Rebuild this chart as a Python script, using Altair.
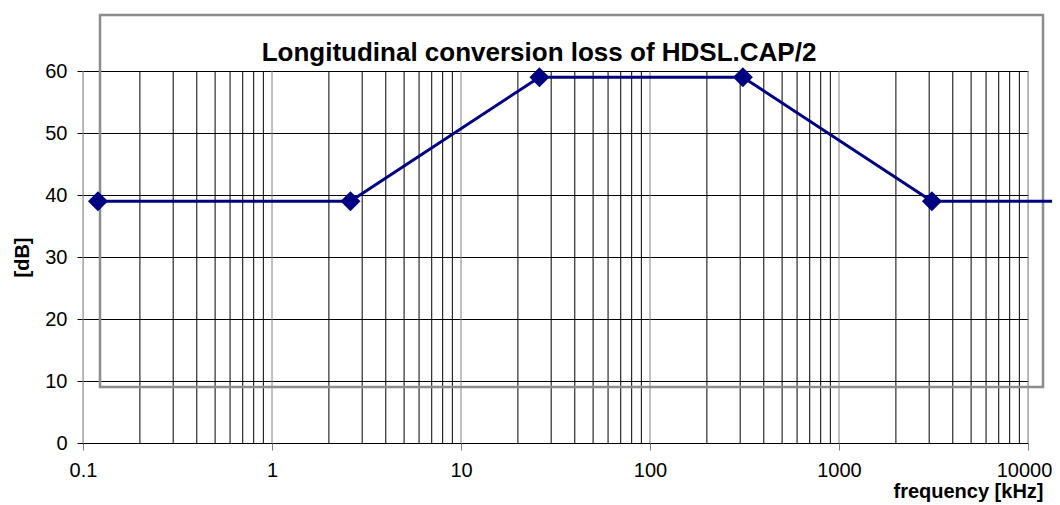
import altair as alt
import pandas as pd

# ---- data ----
freq_khz = [0.12, 2.6, 26, 310, 3100, 14000]
loss_db = [39, 39, 59, 59, 39, 39]
has_marker = [True, True, True, True, True, False]

decades = [0.1, 1, 10, 100, 1000, 10000]
minor_grid = [m * d for d in [0.1, 1, 10, 100, 1000] for m in range(2, 10)]
y_ticks = [0, 10, 20, 30, 40, 50, 60]

title_text = "Longitudinal conversion loss of HDSL.CAP/2"
x_title = "frequency [kHz]"
y_title = "[dB]"

line_df = pd.DataFrame({"f": freq_khz, "db": loss_db, "m": has_marker})
minor_df = pd.DataFrame({"f": minor_grid})
major_df = pd.DataFrame({"f": decades})

FONT = "Liberation Sans"
NAVY = "#000080"

xscale = alt.Scale(type="log", domain=[0.1, 10000], nice=False, clamp=False)
yscale = alt.Scale(domain=[0, 60], nice=False)

base_x_axis = alt.Axis(
    values=decades,
    labelExpr="'' + datum.value",
    labelFlush=False,
    labelOverlap=False,
    labelOffset={"condition": {"test": "datum.value >= 10000", "value": -4}, "value": 0},
    grid=False,
    domain=False,
    tickColor="#808080",
    tickSize=7,
    labelPadding=10,
    labelFont=FONT,
    labelFontSize=20,
    labelColor="black",
    title=x_title,
    titleFont=FONT,
    titleFontSize=20,
    titleFontWeight="bold",
    titleAnchor="end",
    titleAlign="right",
    titleX=960,
    titleY=54,
    titleBaseline="alphabetic",
)

y_axis = alt.Axis(
    values=y_ticks,
    grid=True,
    gridColor="black",
    gridWidth=1,
    domain=False,
    tickColor="black",
    tickSize=6,
    labelPadding=10,
    labelFont=FONT,
    labelFontSize=20,
    labelColor="black",
    labelFlush=False,
    title=y_title,
    titleFont=FONT,
    titleFontSize=20,
    titleFontWeight="bold",
    titlePadding=12,
)

# axes carrier (y grid)
axes_layer = alt.Chart(major_df).mark_rule(opacity=0).encode(
    x=alt.X("f:Q", scale=xscale, axis=base_x_axis),
    y=alt.Y("db:Q", scale=yscale, axis=y_axis),
).transform_calculate(db="0")

minor_rules = alt.Chart(minor_df).mark_rule(color="black", strokeWidth=1).encode(
    x=alt.X("f:Q", scale=xscale)
)
major_rules = alt.Chart(major_df).mark_rule(color="#808080", strokeWidth=1).encode(
    x=alt.X("f:Q", scale=xscale)
)

frame = alt.Chart(pd.DataFrame({"a": [0]})).mark_rect(
    fill=None, stroke="#8c8c8c", strokeWidth=2.5
).encode(
    x=alt.value(17), x2=alt.value(960), y=alt.value(-56), y2=alt.value(316)
)

line = alt.Chart(line_df).mark_line(color=NAVY, strokeWidth=3, clip=False).encode(
    x=alt.X("f:Q", scale=xscale),
    y=alt.Y("db:Q", scale=yscale),
)

points = alt.Chart(line_df).transform_filter("datum.m").mark_point(
    shape="diamond", filled=True, color=NAVY, size=400, opacity=1
).encode(
    x=alt.X("f:Q", scale=xscale),
    y=alt.Y("db:Q", scale=yscale),
)

title = alt.Chart(pd.DataFrame({"t": [title_text]})).mark_text(
    font=FONT, fontSize=26, fontWeight="bold", color="black",
    align="center", baseline="alphabetic"
).encode(text="t:N", x=alt.value(456), y=alt.value(-10))

chart = alt.layer(
    minor_rules, major_rules, axes_layer, frame, line, points, title
).properties(
    width=945,
    height=372,
    padding={"left": 75, "top": 63, "right": 24, "bottom": 60},
    autosize=alt.AutoSizeParams(type="none"),
).configure_view(
    stroke="#800080", strokeWidth=1
).configure(background="white")

chart.save("out.html", embed_options={"renderer": "svg", "actions": False})
